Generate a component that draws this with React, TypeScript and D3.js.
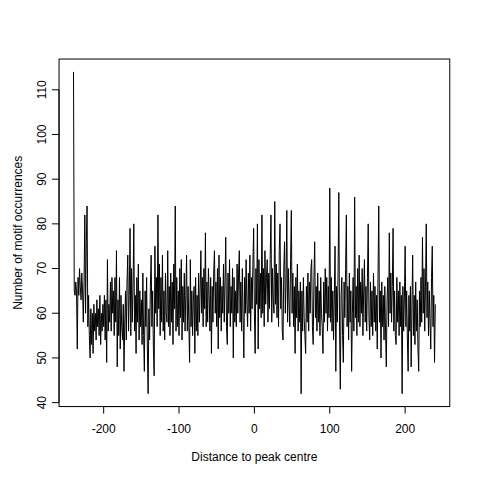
import React from 'react';
import * as d3 from 'd3';

// distance to peak centre, -240 .. 240
const positions: number[] = d3.range(-240, 241);

// motif occurrence counts, one per position
const counts: number[] = [
  114, 65, 64, 67, 65, 52, 68, 64, 70, 66,
  63, 69, 65, 58, 67, 82, 60, 76, 84, 57,
  64, 55, 50, 61, 53, 60, 51, 62, 56, 60,
  54, 63, 57, 61, 55, 64, 53, 60, 56, 62,
  57, 64, 54, 63, 49, 72, 56, 62, 58, 67,
  56, 68, 60, 65, 55, 68, 58, 74, 48, 63,
  55, 68, 52, 64, 57, 54, 62, 47, 58, 65,
  54, 67, 73, 56, 64, 79, 55, 70, 58, 66,
  80, 56, 64, 51, 68, 58, 71, 54, 65, 57,
  63, 53, 69, 55, 47, 65, 57, 68, 52, 42,
  61, 54, 66, 73, 57, 65, 52, 46, 75, 60,
  68, 57, 82, 61, 71, 55, 68, 58, 73, 56,
  65, 54, 69, 60, 58, 74, 57, 66, 55, 69,
  58, 67, 53, 71, 61, 84, 56, 68, 57, 65,
  55, 70, 59, 72, 54, 66, 58, 69, 56, 64,
  73, 56, 66, 58, 49, 72, 57, 65, 55, 63,
  66, 51, 68, 56, 64, 55, 69, 58, 65, 74,
  60, 68, 57, 70, 61, 78, 57, 67, 58, 70,
  64, 56, 68, 51, 66, 58, 69, 74, 60, 67,
  57, 70, 52, 73, 59, 68, 56, 66, 60, 71,
  58, 67, 77, 57, 53, 69, 60, 72, 57, 66,
  60, 70, 50, 68, 58, 65, 57, 71, 60, 69,
  74, 58, 67, 56, 70, 59, 50, 68, 60, 72,
  62, 57, 69, 60, 73, 56, 68, 61, 71, 79,
  60, 51, 70, 62, 80, 52, 72, 61, 69, 59,
  82, 60, 70, 57, 74, 62, 68, 72, 58, 69,
  61, 73, 82, 58, 70, 63, 60, 85, 62, 71,
  59, 69, 57, 74, 80, 61, 68, 56, 54, 70,
  76, 60, 67, 83, 58, 70, 62, 57, 72, 83,
  60, 69, 57, 66, 51, 68, 59, 71, 56, 65,
  58, 67, 42, 65, 56, 68, 59, 55, 51, 66,
  58, 69, 56, 67, 60, 70, 72, 57, 53, 68,
  76, 59, 66, 56, 69, 58, 65, 55, 68, 60,
  57, 51, 67, 58, 70, 60, 68, 56, 66, 59,
  88, 58, 68, 56, 65, 54, 63, 75, 47, 66,
  58, 69, 87, 56, 43, 64, 68, 55, 49, 67,
  59, 70, 82, 57, 66, 54, 69, 58, 65, 47,
  60, 68, 56, 86, 59, 66, 55, 70, 58, 73,
  57, 67, 60, 70, 55, 65, 72, 58, 66, 56,
  68, 80, 59, 54, 67, 57, 65, 55, 69, 58,
  66, 56, 64, 52, 68, 84, 58, 65, 50, 67,
  57, 64, 54, 66, 56, 48, 63, 68, 57, 78,
  60, 69, 58, 66, 79, 56, 65, 55, 53, 68,
  58, 65, 55, 67, 57, 64, 42, 66, 56, 63,
  75, 57, 65, 54, 47, 64, 56, 66, 48, 62,
  73, 55, 64, 53, 67, 56, 63, 52, 47, 65,
  57, 68, 58, 77, 60, 70, 56, 66, 80, 59,
  67, 55, 65, 58, 52, 68, 75, 57, 64, 49,
  62,
];

const xTicks: number[] = [-200, -100, 0, 100, 200];
const yTicks: number[] = [40, 50, 60, 70, 80, 90, 100, 110];

const xLabel = 'Distance to peak centre';
const yLabel = 'Number of motif occurrences';

// R style 4% padding around the data range
const padRange = (ext: [number, number]): [number, number] => {
  const d = (ext[1] - ext[0]) * 0.04;
  return [ext[0] - d, ext[1] + d];
};

const App: React.FC = () => {
  const W = 480;
  const H = 480;
  const line = 14.4;
  const margin = { top: 4.1 * line, right: 2.1 * line, bottom: 5.1 * line, left: 4.1 * line };

  const x = d3
    .scaleLinear()
    .domain(padRange(d3.extent(positions) as [number, number]))
    .range([margin.left, W - margin.right]);

  const y = d3
    .scaleLinear()
    .domain(padRange(d3.extent(counts) as [number, number]))
    .range([H - margin.bottom, margin.top]);

  const path = d3
    .line<number>()
    .x((_, i) => x(positions[i]))
    .y(d => y(d))(counts);

  const bottom = H - margin.bottom;
  const left = margin.left;
  const tick = 7;
  const font = { fontFamily: 'Liberation Sans, Arial, Helvetica, sans-serif', fontSize: 12 };

  return (
    <div style={{ position: 'absolute', left: 0, top: 0 }}>
      <svg width={W} height={H} style={{ display: 'block', background: '#fff' }}>
        <rect x={0} y={0} width={W} height={H} fill="#fff" />
        <path d={path ?? ''} fill="none" stroke="#000" strokeWidth={1} />

        {/* box */}
        <rect
          x={margin.left}
          y={margin.top}
          width={W - margin.left - margin.right}
          height={H - margin.top - margin.bottom}
          fill="none"
          stroke="#000"
          strokeWidth={1}
        />

        {/* x axis */}
        <line x1={x(xTicks[0])} x2={x(xTicks[xTicks.length - 1])} y1={bottom} y2={bottom} stroke="#000" />
        {xTicks.map(t => (
          <g key={'x' + t}>
            <line x1={x(t)} x2={x(t)} y1={bottom} y2={bottom + tick} stroke="#000" />
            <text x={x(t)} y={428.5} textAnchor="middle" dominantBaseline="central" fill="#000" {...font}>
              {t}
            </text>
          </g>
        ))}
        <text x={(margin.left + W - margin.right) / 2} y={456.5} textAnchor="middle" dominantBaseline="central" fill="#000" {...font}>
          {xLabel}
        </text>

        {/* y axis */}
        <line x1={left} x2={left} y1={y(yTicks[0])} y2={y(yTicks[yTicks.length - 1])} stroke="#000" />
        {yTicks.map(t => (
          <g key={'y' + t}>
            <line x1={left - tick} x2={left} y1={y(t)} y2={y(t)} stroke="#000" />
            <text
              transform={`translate(41.5,${y(t)}) rotate(-90)`}
              textAnchor="middle"
              dominantBaseline="central"
              fill="#000"
              {...font}
            >
              {t}
            </text>
          </g>
        ))}
        <text
          transform={`translate(18,${(margin.top + H - margin.bottom) / 2}) rotate(-90)`}
          textAnchor="middle"
          dominantBaseline="central"
          fill="#000"
          {...font}
        >
          {yLabel}
        </text>
      </svg>
    </div>
  );
};

export default App;
